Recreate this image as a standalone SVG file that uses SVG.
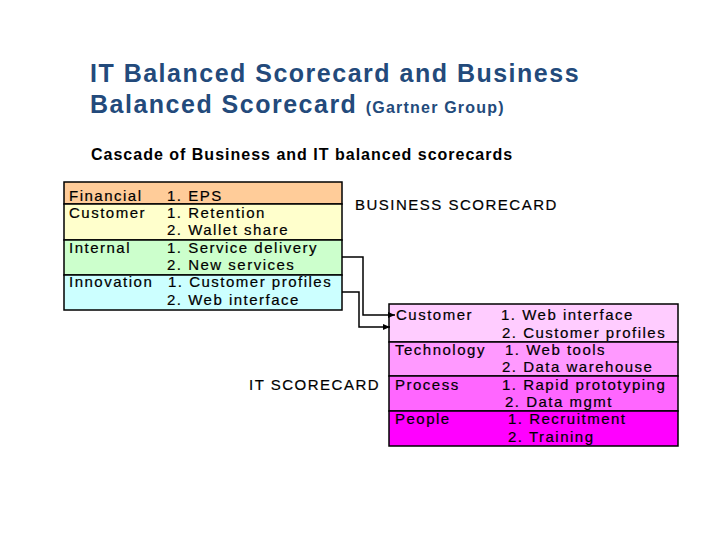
<svg xmlns="http://www.w3.org/2000/svg" width="720" height="540" viewBox="0 0 720 540">
<style>
.t{font-family:"Liberation Sans",Arial,sans-serif;font-weight:bold;fill:#234A7B}
.s{font-family:"Liberation Sans",Arial,sans-serif;font-weight:bold;fill:#000}
.c{font-family:"Liberation Sans",Arial,sans-serif;font-size:15px;letter-spacing:1.5px;fill:#000;stroke:#000;stroke-width:0.2}
.row{stroke:#000;stroke-width:1.5}
.ln{fill:none;stroke:#000;stroke-width:1.5}
</style>
<defs>
<marker id="ah" markerWidth="8" markerHeight="8" refX="7" refY="4" orient="auto" markerUnits="userSpaceOnUse">
<path d="M0,1 L7,4 L0,7 Z" fill="#000"/>
</marker>
</defs>
<rect width="720" height="540" fill="#fff"/>
<g id="title">
<text class="t" x="90" y="82" font-size="25" letter-spacing="1.5">IT Balanced Scorecard and Business</text>
<text class="t" x="90" y="113" font-size="25" letter-spacing="1.5">Balanced Scorecard <tspan font-size="16" letter-spacing="1.2">(Gartner Group)</tspan></text>
<text class="s" x="91" y="160" font-size="16" letter-spacing="1">Cascade of Business and IT balanced scorecards</text>
</g>
<g id="business-scorecard">
<rect class="row" x="64" y="182" width="278" height="22" fill="#FFCC99"/>
<rect class="row" x="64" y="204" width="278" height="36" fill="#FFFFCC"/>
<rect class="row" x="64" y="240" width="278" height="35" fill="#CCFFCC"/>
<rect class="row" x="64" y="275" width="278" height="35" fill="#CCFFFF"/>
<text class="c" x="69" y="201">Financial</text>
<text class="c" x="167" y="201">1. EPS</text>
<text class="c" x="69" y="218">Customer</text>
<text class="c" x="167" y="218">1. Retention</text>
<text class="c" x="167" y="235">2. Wallet share</text>
<text class="c" x="69" y="253">Internal</text>
<text class="c" x="167" y="253">1. Service delivery</text>
<text class="c" x="167" y="270">2. New services</text>
<text class="c" x="69" y="287">Innovation</text>
<text class="c" x="168" y="287">1. Customer profiles</text>
<text class="c" x="167" y="305">2. Web interface</text>
<text class="c" x="355" y="210" letter-spacing="1.3">BUSINESS SCORECARD</text>
</g>
<g id="it-scorecard">
<rect class="row" x="389" y="304" width="289" height="38" fill="#FFCCFF"/>
<rect class="row" x="389" y="342" width="289" height="34" fill="#FF99FF"/>
<rect class="row" x="389" y="376" width="289" height="35" fill="#FF66FF"/>
<rect class="row" x="389" y="411" width="289" height="35" fill="#FF00FF"/>
<text class="c" x="396" y="320">Customer</text>
<text class="c" x="501" y="320">1. Web interface</text>
<text class="c" x="502" y="338">2. Customer profiles</text>
<text class="c" x="395" y="355">Technology</text>
<text class="c" x="505" y="355">1. Web tools</text>
<text class="c" x="502" y="372">2. Data warehouse</text>
<text class="c" x="395" y="390">Process</text>
<text class="c" x="502" y="390">1. Rapid prototyping</text>
<text class="c" x="505" y="407">2. Data mgmt</text>
<text class="c" x="395" y="424">People</text>
<text class="c" x="508" y="424">1. Recruitment</text>
<text class="c" x="508" y="442">2. Training</text>
<text class="c" x="249" y="390" letter-spacing="1.3">IT SCORECARD</text>
</g>
<g id="connectors">
<polyline class="ln" points="342,257 363,257 363,315 395,315" marker-end="url(#ah)"/>
<polyline class="ln" points="342,292 359,292 359,327 390,327" marker-end="url(#ah)"/>
</g>
</svg>
